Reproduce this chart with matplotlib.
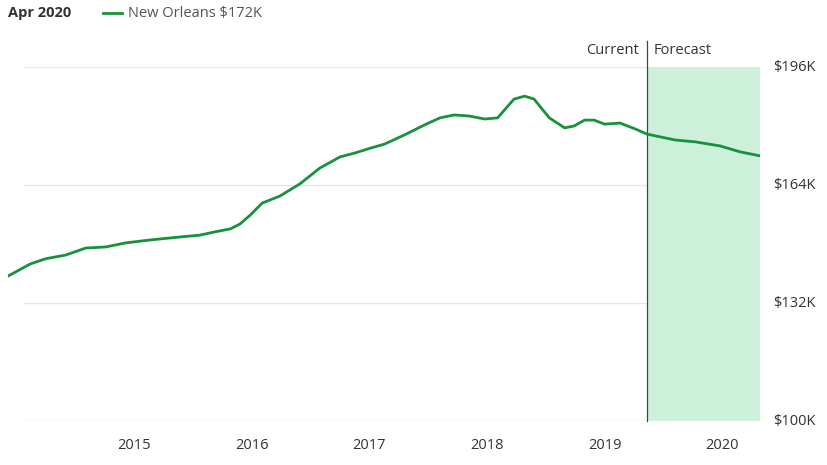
import matplotlib.pyplot as plt

plt.rcParams['font.family'] = 'Open Sans'

# decimal year, home value in $K
years = [2013.93, 2014.12, 2014.25, 2014.42, 2014.59, 2014.76, 2014.93, 2015.14, 2015.39,
         2015.56, 2015.69, 2015.82, 2015.90, 2015.99, 2016.09, 2016.24, 2016.41, 2016.58,
         2016.75, 2016.88, 2017.01, 2017.13, 2017.30, 2017.47, 2017.60, 2017.72, 2017.85,
         2017.98, 2018.09, 2018.23, 2018.32, 2018.40, 2018.53, 2018.66, 2018.74, 2018.83,
         2018.91, 2019.00, 2019.13, 2019.26, 2019.36, 2019.60, 2019.77, 2019.98, 2020.15, 2020.32]
values = [139.3, 142.6, 144.0, 145.0, 146.9, 147.2, 148.3, 149.1, 149.9, 150.4, 151.3, 152.1,
          153.4, 155.9, 159.1, 161.0, 164.3, 168.6, 171.6, 172.7, 174.0, 175.1, 177.6, 180.3,
          182.2, 183.0, 182.7, 181.9, 182.2, 187.3, 188.1, 187.3, 182.2, 179.5, 180.0, 181.6,
          181.6, 180.5, 180.8, 179.2, 177.8, 176.2, 175.7, 174.6, 173.0, 171.9]
yticks = [100, 132, 164, 196]
xticks = [2015, 2016, 2017, 2018, 2019, 2020]
forecast_start = 2019.36
green = '#17923b'

fig = plt.figure(figsize=(8.28, 4.65), dpi=100)
ax = fig.add_axes([8/828, 44/465, 752/828, 354/465])
ax.set_xlim(2013.93, 2020.32)
ax.set_ylim(100, 196)

for y in yticks:
    ax.plot([2014.07, 2020.32], [y, y], color='#e6e6e6', lw=1, zorder=0)
ax.axvspan(forecast_start, 2020.32, color='#cdf0db', lw=0, zorder=1)
ax.plot([forecast_start, forecast_start], [100, 203], color='#444444', lw=0.9,
        clip_on=False, zorder=3)
ax.plot(years, values, color=green, lw=2, zorder=4)

for s in ax.spines.values():
    s.set_visible(False)
ax.set_xticks(xticks)
ax.set_xticklabels([str(x) for x in xticks])
ax.set_yticks([])
ax.tick_params(axis='x', length=0, labelsize=10.5, colors='#333333', pad=12)
for y in yticks:
    ax.text(1.017, (y - 100) / 96, f'${y}K', transform=ax.transAxes,
            ha='left', va='center', fontsize=10.5, color='#333333')

fig.text(639/828, 1 - 50/465, 'Current', ha='right', va='center', fontsize=10.5, color='#333333')
fig.text(654/828, 1 - 50/465, 'Forecast', ha='left', va='center', fontsize=10.5, color='#333333')
fig.text(8/828, 1 - 13/465, 'Apr 2020', ha='left', va='center', fontsize=10.5,
         fontweight='bold', color='#333333')
fig.lines.append(plt.Line2D([103/828, 122/828], [1 - 13/465] * 2, color=green, lw=2,
                            transform=fig.transFigure))
fig.text(128/828, 1 - 13/465, 'New Orleans $172K', ha='left', va='center', fontsize=10.5,
         color='#555555')

fig.savefig('out.png', dpi=100)
